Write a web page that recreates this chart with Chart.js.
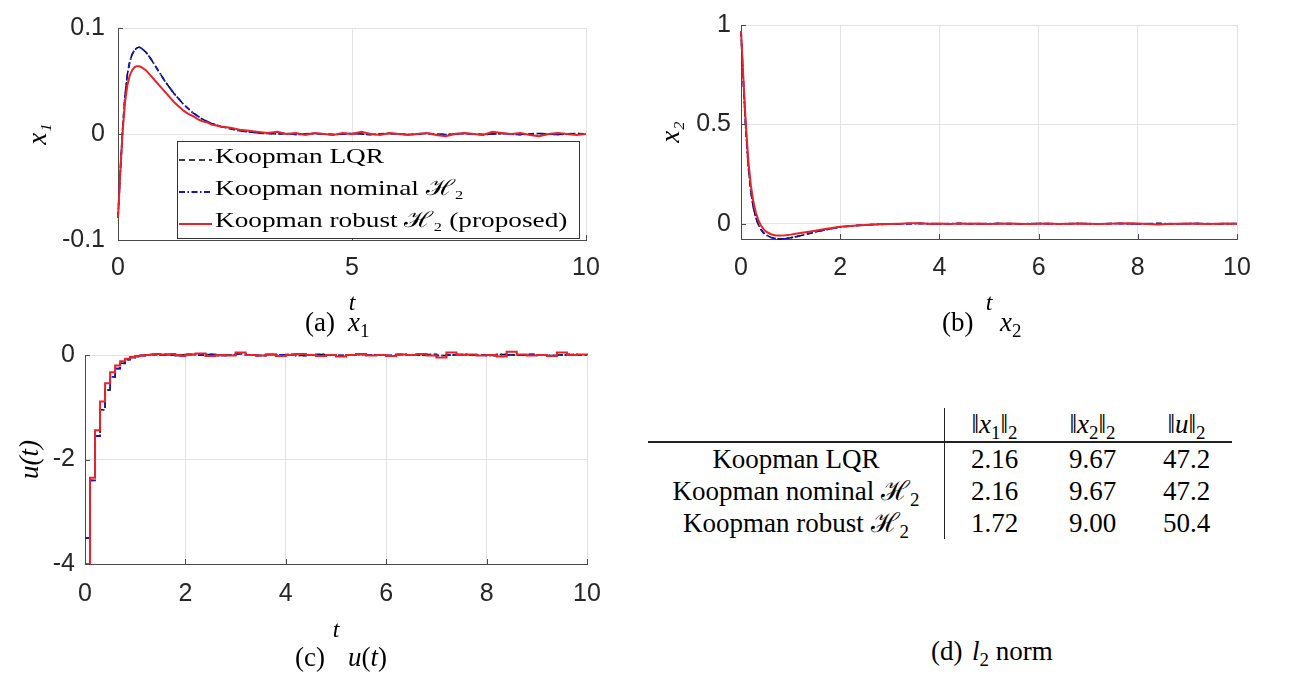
<!DOCTYPE html>
<html>
<head>
<meta charset="utf-8">
<script src="https://cdn.jsdelivr.net/npm/chart.js@4.4.1/dist/chart.umd.min.js"></script>
<style>
  body { margin: 0; background: #fff; width: 1299px; height: 677px; position: relative; overflow: hidden;
         font-family: 'Liberation Serif', 'Times New Roman', serif; color: #000; }
  canvas { position: absolute; }
  #chartA { left: 0; top: 0; }
  #chartB { left: 620px; top: 0; }
  #chartC { left: 0; top: 330px; }
  .cap { position: absolute; font-size: 27px; line-height: 1; white-space: nowrap; }
  sub { font-size: 0.7em; vertical-align: -0.3em; line-height: 0; }
  #norms { position: absolute; left: 648px; top: 408px; border-collapse: collapse;
           font-family: 'Liberation Serif', 'Times New Roman', serif; font-size: 27px; }
  #norms th, #norms td { padding: 0; text-align: center; font-weight: normal; white-space: nowrap; }
  #norms th { height: 33px; line-height: 33px; border-bottom: 2px solid #222; }
  #norms td { height: 32px; line-height: 32px; }
  #norms tr > :first-child { border-right: 1px solid #222; }
</style>
</head>
<body>
<canvas id="chartA" width="620" height="320"></canvas>
<canvas id="chartB" width="679" height="320"></canvas>
<canvas id="chartC" width="620" height="316"></canvas>

<div class="cap" style="left:305px;top:309px">(a)</div>
<div class="cap" style="left:348px;top:309px"><i>x</i><sub>1</sub></div>
<div class="cap" style="left:942px;top:309px">(b)</div>
<div class="cap" style="left:1000px;top:309px"><i>x</i><sub>2</sub></div>
<div class="cap" style="left:295px;top:644px">(c)</div>
<div class="cap" style="left:348px;top:644px"><i>u</i>(<i>t</i>)</div>
<div class="cap" style="left:931px;top:638px">(d)</div>
<div class="cap" style="left:972px;top:638px"><i>l</i><sub>2</sub> norm</div>

<table id="norms"></table>

<script>
// sample instants of the state plots (a), (b)
const T_STATE = [0, 0.05, 0.1, 0.15, 0.2, 0.25, 0.3, 0.35, 0.4, 0.45, 0.5, 0.6, 0.7, 0.8, 0.9,
  1.0, 1.1, 1.2, 1.3, 1.4, 1.5, 1.6, 1.7, 1.8, 1.9, 2.0,
  2.2, 2.4, 2.6, 2.8, 3.0, 3.2, 3.4, 3.6, 3.8, 4.0, 4.2, 4.4, 4.6, 4.8, 5.0,
  5.2, 5.4, 5.6, 5.8, 6.0, 6.2, 6.4, 6.6, 6.8, 7.0, 7.2, 7.4, 7.6, 7.8, 8.0,
  8.2, 8.4, 8.6, 8.8, 9.0, 9.2, 9.4, 9.6, 9.8, 10.0];

// x1: LQR and nominal H2 give the same trajectory
const X1_NOMINAL = [-0.079, -0.035, 0.005, 0.036, 0.056, 0.068, 0.075, 0.079, 0.081, 0.082, 0.081, 0.077, 0.071, 0.064, 0.057,
  0.050, 0.044, 0.038, 0.033, 0.028, 0.024, 0.020, 0.017, 0.014, 0.012, 0.010,
  0.007, 0.005, 0.003, 0.002, 0.001, 0.0005, 0.0, 0.0005, -0.0005, 0.0, 0.0005, 0.0, -0.0005, 0.0, 0.0005,
  0.0, -0.0005, 0.0, 0.0005, 0.0, -0.0005, 0.0, 0.0005, 0.0, -0.0005, 0.0, 0.0005, 0.0, -0.0005, 0.0,
  0.0005, 0.0, -0.0005, 0.0, 0.0005, 0.0, -0.0005, 0.0, 0.0005, 0.0];
const X1_ROBUST = [-0.079, -0.035, 0.003, 0.030, 0.046, 0.055, 0.060, 0.063, 0.064, 0.064, 0.063, 0.060, 0.055, 0.050, 0.045,
  0.040, 0.035, 0.030, 0.026, 0.022, 0.019, 0.017, 0.014, 0.012, 0.011, 0.009,
  0.007, 0.006, 0.004, 0.003, 0.002, 0.001, 0.002, 0.000, 0.001, -0.001, 0.001, 0.000, -0.001, 0.001, 0.000,
  0.002, 0.000, -0.001, 0.001, 0.000, -0.001, 0.000, 0.001, -0.001, -0.002, 0.000, 0.001, 0.000, -0.001, 0.002,
  0.001, 0.000, 0.001, -0.001, -0.002, 0.000, 0.001, 0.000, -0.001, 0.000];

const X2_NOMINAL = [0.97, 0.70, 0.46, 0.28, 0.16, 0.08, 0.03, -0.005, -0.028, -0.045, -0.056, -0.069, -0.075, -0.077, -0.075,
  -0.071, -0.066, -0.060, -0.054, -0.048, -0.042, -0.036, -0.031, -0.026, -0.021, -0.016,
  -0.012, -0.008, -0.005, -0.003, -0.002, -0.001, 0.000, 0.001, 0.000, -0.001, 0.000, 0.001, 0.000, -0.001, 0.000,
  0.001, 0.000, -0.001, 0.000, 0.001, 0.000, -0.001, 0.000, 0.001, 0.000, -0.001, 0.000, 0.001, 0.000, -0.001,
  0.000, 0.001, 0.000, -0.001, 0.000, 0.001, 0.000, -0.001, 0.000, 0.000];
const X2_ROBUST = [0.97, 0.72, 0.49, 0.31, 0.19, 0.11, 0.055, 0.018, -0.008, -0.026, -0.039, -0.053, -0.059, -0.060, -0.058,
  -0.055, -0.051, -0.047, -0.043, -0.039, -0.035, -0.031, -0.027, -0.023, -0.019, -0.015,
  -0.011, -0.008, -0.005, -0.003, -0.001, 0.000, 0.002, 0.002, 0.000, 0.001, -0.001, 0.001, 0.000, 0.001, -0.001,
  0.000, 0.001, 0.000, -0.001, 0.000, 0.001, -0.001, 0.000, 0.001, 0.000, -0.001, 0.000, 0.001, 0.002, 0.001,
  -0.002, -0.004, -0.001, 0.000, 0.001, 0.000, -0.001, 0.000, 0.001, 0.000];

// control input, held between samples
const T_U = [0, 0.1, 0.2, 0.3, 0.4, 0.5, 0.6, 0.7, 0.8, 0.9, 1.0, 1.1, 1.2, 1.3, 1.4, 1.5, 1.6, 1.7, 1.8, 1.9, 2.0,
  2.2, 2.4, 2.6, 2.8, 3.0, 3.2, 3.4, 3.6, 3.8, 4.0, 4.2, 4.4, 4.6, 4.8, 5.0,
  5.2, 5.4, 5.6, 5.8, 6.0, 6.2, 6.4, 6.6, 6.8, 7.0, 7.2, 7.4, 7.6, 7.8, 8.0,
  8.2, 8.4, 8.6, 8.8, 9.0, 9.2, 9.4, 9.6, 9.8, 10.0];
const U_NOMINAL = [-3.5, -2.4, -1.55, -1.05, -0.67, -0.42, -0.26, -0.16, -0.09, -0.05, -0.03, -0.01, 0.00, 0.01, 0.01, 0.00, 0.01, 0.00, -0.01, 0.00, 0.01,
  0.00, 0.01, -0.01, 0.00, 0.02, 0.00, -0.01, 0.01, 0.00, 0.01, -0.01, 0.00, 0.01, 0.00, -0.01,
  0.00, 0.01, 0.00, 0.00, -0.01, 0.01, 0.00, 0.00, 0.01, -0.01, 0.00, 0.01, 0.00, 0.00, -0.01,
  0.01, 0.00, 0.00, 0.01, 0.00, -0.01, 0.00, 0.01, 0.00, 0.00];
const U_ROBUST = [-4.0, -2.35, -1.44, -0.89, -0.54, -0.33, -0.20, -0.12, -0.07, -0.04, -0.02, -0.01, 0.00, 0.01, 0.02, 0.01, 0.01, 0.02, 0.00, -0.02, 0.01,
  0.03, -0.02, 0.00, -0.01, 0.05, 0.00, -0.01, 0.01, -0.02, 0.00, 0.02, 0.00, -0.02, 0.00, -0.03,
  0.00, 0.02, -0.01, 0.00, -0.02, 0.01, 0.00, 0.02, -0.01, -0.05, 0.05, 0.00, 0.01, -0.01, 0.00,
  -0.03, 0.06, 0.01, -0.01, 0.00, -0.02, 0.05, 0.00, 0.01, 0.03];

const SERIES_LABELS = ['Koopman LQR', 'Koopman nominal ℋ₂', 'Koopman robust ℋ₂ (proposed)'];

// tick positions
const X_TICKS_A = [0, 5, 10];
const Y_TICKS_A = [-0.1, 0, 0.1];
const X_TICKS_B = [0, 2, 4, 6, 8, 10];
const Y_TICKS_B = [0, 0.5, 1];
const X_TICKS_C = [0, 2, 4, 6, 8, 10];
const Y_TICKS_C = [-4, -2, 0];

// table (d)
const NORM_HEADERS = ['‖<i>x</i><sub>1</sub>‖<sub>2</sub>', '‖<i>x</i><sub>2</sub>‖<sub>2</sub>', '‖<i>u</i>‖<sub>2</sub>'];
const NORM_ROWS = ['Koopman LQR', 'Koopman nominal ℋ<sub>2</sub>', 'Koopman robust ℋ<sub>2</sub>'];
const NORM_X1 = [2.16, 2.16, 1.72];
const NORM_X2 = [9.67, 9.67, 9.00];
const NORM_U = [47.2, 47.2, 50.4];
const NORM_DIGITS = [2, 2, 1];

const GRID_COLOR = '#e3e3e3';
const AXIS_COLOR = '#4a4a4a';
const TICK_FONT = { family: "'Liberation Sans', Arial, sans-serif", size: 25 };
const MATH_FAMILY = "'Liberation Serif', 'Times New Roman', serif";

const LQR_STYLE = { borderColor: '#000000', borderWidth: 1.5, borderDash: [6, 4], order: 2 };
const NOMINAL_STYLE = { borderColor: '#1414c4', borderWidth: 1.8, borderDash: [6, 2.5, 1.5, 2.5], order: 1 };
const ROBUST_STYLE = { borderColor: '#e8232a', borderWidth: 2, order: 0 };

function toPoints(ts, ys) {
    return ts.map((t, i) => ({ x: t, y: ys[i] }));
}

function buildDatasets(ts, lqr, nominal, robust, stepped) {
    const sets = [
        { label: SERIES_LABELS[0], data: toPoints(ts, lqr), ...LQR_STYLE },
        { label: SERIES_LABELS[1], data: toPoints(ts, nominal), ...NOMINAL_STYLE },
        { label: SERIES_LABELS[2], data: toPoints(ts, robust), ...ROBUST_STYLE }
    ];
    return sets.map(ds => Object.assign(ds, { pointRadius: 0, tension: 0, stepped: stepped, clip: 6, fill: false }));
}

// matlab style ticks pointing into the plot
const inwardTicks = {
    id: 'inwardTicks',
    afterDatasetsDraw(chart) {
        const { ctx, chartArea, scales } = chart;
        ctx.save();
        ctx.strokeStyle = AXIS_COLOR;
        ctx.lineWidth = 1;
        ctx.beginPath();
        scales.x.ticks.forEach(t => {
            const px = Math.round(scales.x.getPixelForValue(t.value)) + 0.5;
            ctx.moveTo(px, chartArea.bottom);
            ctx.lineTo(px, chartArea.bottom - 5);
        });
        scales.y.ticks.forEach(t => {
            const py = Math.round(scales.y.getPixelForValue(t.value)) + 0.5;
            ctx.moveTo(chartArea.left, py);
            ctx.lineTo(chartArea.left + 5, py);
        });
        ctx.stroke();
        ctx.restore();
    }
};

// legend box in the lower right corner of the plot
const boxLegend = {
    id: 'boxLegend',
    afterDraw(chart) {
        const { ctx, chartArea } = chart;
        const w = 402, h = 97;
        const x0 = chartArea.right - 7 - w;
        const y0 = chartArea.bottom - 2 - h;
        ctx.save();
        ctx.fillStyle = '#fff';
        ctx.fillRect(x0, y0, w, h);
        ctx.strokeStyle = '#333';
        ctx.lineWidth = 1;
        ctx.strokeRect(x0 + 0.5, y0 + 0.5, w, h);
        chart.data.datasets.forEach((ds, i) => {
            const cy = y0 + 16 + i * 32;
            ctx.strokeStyle = ds.borderColor;
            ctx.lineWidth = ds.borderWidth;
            ctx.setLineDash(ds.borderDash || []);
            ctx.beginPath();
            ctx.moveTo(x0 + 2, cy + 3);
            ctx.lineTo(x0 + 35, cy + 3);
            ctx.stroke();
            ctx.setLineDash([]);
            ctx.fillStyle = '#000';
            ctx.font = "22px " + MATH_FAMILY;
            ctx.textBaseline = 'middle';
            ctx.save();
            ctx.translate(x0 + 38, cy);
            ctx.scale(1.24, 1);
            ctx.fillText(ds.label, 0, 0);
            ctx.restore();
        });
        ctx.restore();
    }
};

function buildScales(p) {
    return {
        x: {
            type: 'linear', min: p.xMin, max: p.xMax,
            afterBuildTicks: axis => { axis.ticks = p.xTicks.map(v => ({ value: v })); },
            afterFit: axis => { axis.height = p.xHeight; },
            ticks: { autoSkip: false, maxRotation: 0, padding: p.xPad, color: '#262626', font: TICK_FONT,
                     callback: v => String(v) },
            grid: { color: GRID_COLOR, drawTicks: false },
            border: { color: AXIS_COLOR },
            title: { display: true, text: 't', color: '#000',
                     font: { family: MATH_FAMILY, style: 'italic', size: 24 },
                     padding: { top: 0, bottom: p.xTitlePad } }
        },
        y: {
            type: 'linear', min: p.yMin, max: p.yMax,
            afterBuildTicks: axis => { axis.ticks = p.yTicks.map(v => ({ value: v })); },
            afterFit: axis => { axis.width = p.yWidth; },
            ticks: { autoSkip: false, padding: p.yPad, color: '#262626', font: TICK_FONT,
                     callback: v => String(v) },
            grid: { color: GRID_COLOR, drawTicks: false },
            border: { color: AXIS_COLOR },
            title: { display: true, text: p.yTitle, color: '#000',
                     font: { family: MATH_FAMILY, style: 'italic', size: 27 },
                     padding: { top: p.yTitlePad, bottom: 0 } }
        }
    };
}

function makeChart(id, datasets, scaleParams, padding, extraPlugins) {
    return new Chart(document.getElementById(id), {
        type: 'line',
        data: { datasets: datasets },
        options: {
            responsive: false,
            animation: false,
            layout: { padding: padding },
            plugins: { legend: { display: false }, tooltip: { enabled: false } },
            scales: buildScales(scaleParams)
        },
        plugins: [inwardTicks].concat(extraPlugins || [])
    });
}

makeChart('chartA',
    buildDatasets(T_STATE, X1_NOMINAL, X1_NOMINAL, X1_ROBUST, false),
    { xMin: 0, xMax: 10, xTicks: X_TICKS_A, xHeight: 80, xPad: 13, xTitlePad: 2,
      yMin: -0.1, yMax: 0.1, yTicks: Y_TICKS_A, yWidth: 118, yPad: 13, yTitle: 'x₁', yTitlePad: 23 },
    { left: 0, top: 27, right: 34, bottom: 0 },
    [boxLegend]);

makeChart('chartB',
    buildDatasets(T_STATE, X2_NOMINAL, X2_NOMINAL, X2_ROBUST, false),
    { xMin: 0, xMax: 10, xTicks: X_TICKS_B, xHeight: 81, xPad: 14, xTitlePad: 2,
      yMin: -0.077, yMax: 1, yTicks: Y_TICKS_B, yWidth: 121, yPad: 10, yTitle: 'x₂', yTitlePad: 36 },
    { left: 0, top: 25, right: 62, bottom: 0 });

makeChart('chartC',
    buildDatasets(T_U, U_NOMINAL, U_NOMINAL, U_ROBUST, true),
    { xMin: 0, xMax: 10, xTicks: X_TICKS_C, xHeight: 82, xPad: 15, xTitlePad: 1,
      yMin: -4, yMax: 0, yTicks: Y_TICKS_C, yWidth: 85, yPad: 10, yTitle: 'u(t)', yTitlePad: 15 },
    { left: 0, top: 21, right: 33, bottom: 0 });

// l2 norm table
function buildNormTable() {
    const table = document.getElementById('norms');
    const widths = [296, 99, 97, 91];
    let html = '<tr>' + ['', ...NORM_HEADERS].map((h, i) => `<th style="width:${widths[i]}px">${h}</th>`).join('') + '</tr>';
    NORM_ROWS.forEach((label, r) => {
        const cells = [NORM_X1[r], NORM_X2[r], NORM_U[r]].map((v, c) => `<td>${v.toFixed(NORM_DIGITS[c])}</td>`);
        html += `<tr><td>${label}</td>${cells.join('')}</tr>`;
    });
    table.innerHTML = html;
}
buildNormTable();
</script>
</body>
</html>
